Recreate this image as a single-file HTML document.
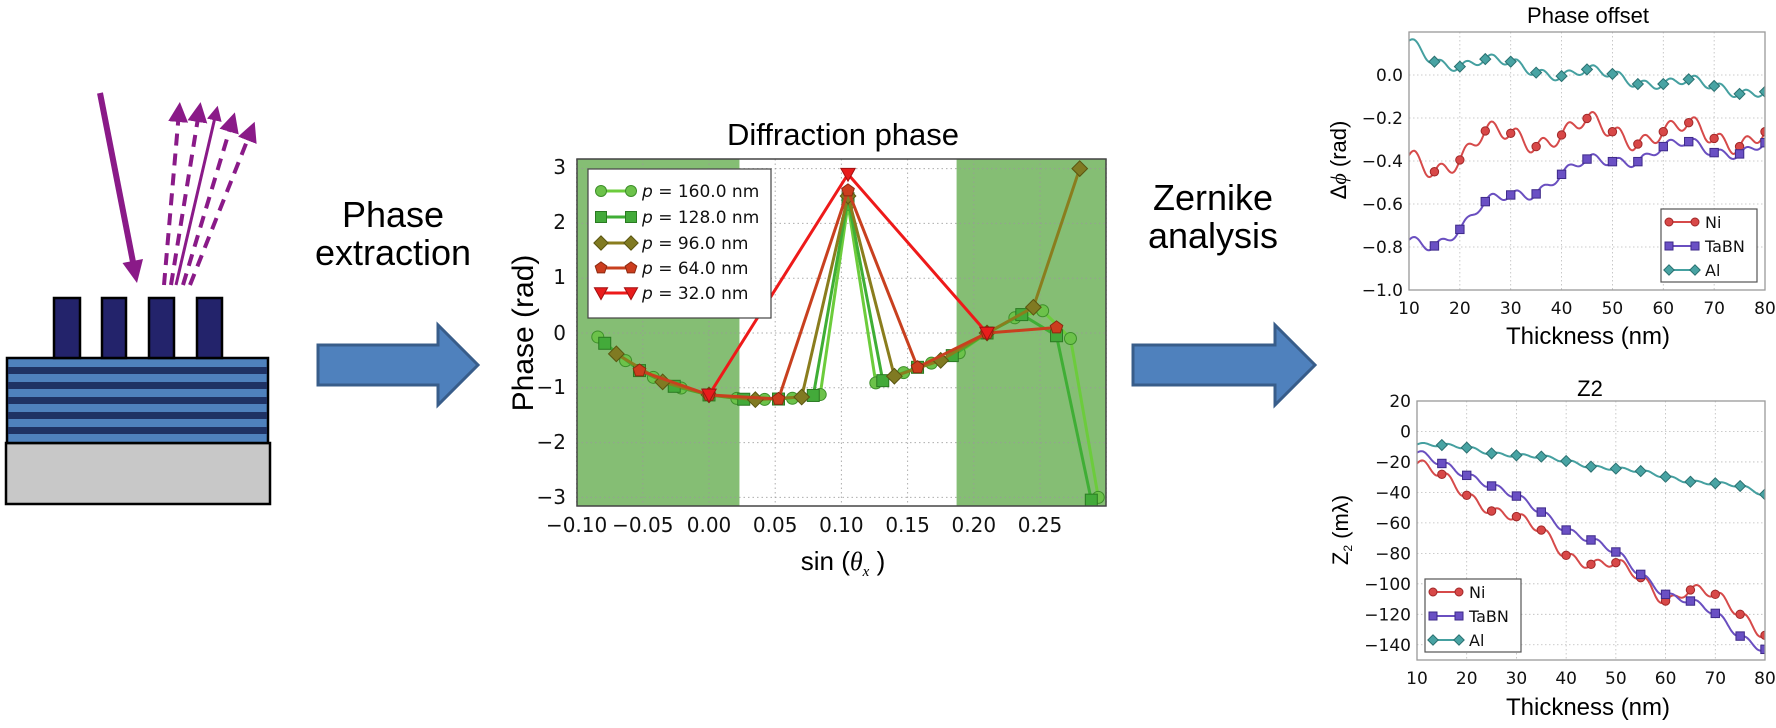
<!DOCTYPE html>
<html><head><meta charset="utf-8">
<style>
html,body{margin:0;padding:0;background:#fff;}
svg{display:block;}
.a{font-family:"Liberation Sans",Arial,sans-serif;fill:#000;}
.d{font-family:"DejaVu Sans","Liberation Sans",sans-serif;fill:#111;}
</style></head>
<body>
<svg id="s" width="1776" height="728" viewBox="0 0 1776 728" xmlns="http://www.w3.org/2000/svg">
<defs>
<marker id="ah" markerWidth="5" markerHeight="5" refX="2.5" refY="2.5" orient="auto" markerUnits="strokeWidth"><path d="M0,0 L5,2.5 L0,5 Z" fill="#8a1a88"/></marker>
<clipPath id="cc"><rect x="577" y="159" width="529" height="347"/></clipPath>
<clipPath id="c1"><rect x="1409" y="32" width="356" height="258"/></clipPath>
<clipPath id="c2"><rect x="1417" y="401" width="348" height="259"/></clipPath>
</defs>

<!-- left diagram -->
<rect x="6" y="443" width="264" height="61" fill="#c8c8c8" stroke="#000" stroke-width="2.5"/>
<rect x="7" y="358" width="261" height="85" fill="#4f81bd" stroke="#000" stroke-width="2.5"/>
<g fill="#1f3264">
<rect x="8" y="367" width="259" height="7"/><rect x="8" y="382" width="259" height="7"/><rect x="8" y="397" width="259" height="7"/><rect x="8" y="412" width="259" height="7"/><rect x="8" y="427" width="259" height="7"/>
</g>
<g fill="#23236b" stroke="#000" stroke-width="2.5">
<rect x="54" y="298" width="26" height="60"/><rect x="102" y="298" width="24" height="60"/><rect x="149" y="298" width="25" height="60"/><rect x="197" y="298" width="25" height="60"/>
</g>
<line x1="100" y1="93" x2="133" y2="262" stroke="#8a1a88" stroke-width="6"/>
<polygon points="137,283 143,259 122.5,263" fill="#8a1a88"/>
<g stroke="#8a1a88" stroke-width="4" fill="none">
<line x1="164" y1="285" x2="179" y2="112" stroke-dasharray="12 8" marker-end="url(#ah)"/>
<line x1="171" y1="285" x2="199" y2="112" stroke-dasharray="12 8" marker-end="url(#ah)"/>
<line x1="176" y1="285" x2="216" y2="113" marker-end="url(#ah)" stroke-width="3"/>
<line x1="183" y1="285" x2="232" y2="122" stroke-dasharray="12 8" marker-end="url(#ah)"/>
<line x1="190" y1="285" x2="251" y2="131" stroke-dasharray="12 8" marker-end="url(#ah)"/>
</g>

<!-- texts & arrows -->
<text class="a" x="393" y="227" font-size="36" text-anchor="middle">Phase</text>
<text class="a" x="393" y="265" font-size="36" text-anchor="middle">extraction</text>
<polygon points="318,345 438,345 438,325 478,365 438,405 438,385 318,385" fill="#4f81bd" stroke="#385d8a" stroke-width="3"/>
<text class="a" x="1213" y="210" font-size="36" text-anchor="middle">Zernike</text>
<text class="a" x="1213" y="248" font-size="36" text-anchor="middle">analysis</text>
<polygon points="1133,345 1275,345 1275,325 1315,365 1275,405 1275,385 1133,385" fill="#4f81bd" stroke="#385d8a" stroke-width="3"/>

<!-- center chart -->
<rect x="577" y="159" width="529" height="347" fill="#fff"/>
<g id="cg"></g>
<text class="a" x="843" y="145" font-size="31" text-anchor="middle">Diffraction phase</text>
<text class="a" font-size="30" text-anchor="middle" transform="translate(533,333) rotate(-90)">Phase (rad)</text>
<text class="a" x="843" y="570" font-size="26" text-anchor="middle">sin (<tspan font-family="Liberation Serif" font-style="italic">θ</tspan><tspan font-family="Liberation Serif" font-style="italic" font-size="15" dy="6">x</tspan><tspan dy="-6"> )</tspan></text>
<g class="d" font-size="20" text-anchor="end">
<text x="566" y="174">3</text><text x="566" y="229">2</text><text x="566" y="284">1</text><text x="566" y="340">0</text><text x="566" y="394">−1</text><text x="566" y="449">−2</text><text x="566" y="504">−3</text>
</g>
<g class="d" font-size="20" text-anchor="middle" id="cxt"></g>

<!-- legend center -->
<rect x="588" y="169" width="183" height="149" fill="#fff" stroke="#444" stroke-width="1.2"/>
<g id="cleg"></g>
<g class="d" font-size="17">
<text x="642" y="197"><tspan font-style="italic">p</tspan> = 160.0 nm</text>
<text x="642" y="223"><tspan font-style="italic">p</tspan> = 128.0 nm</text>
<text x="642" y="249"><tspan font-style="italic">p</tspan> = 96.0 nm</text>
<text x="642" y="274"><tspan font-style="italic">p</tspan> = 64.0 nm</text>
<text x="642" y="299"><tspan font-style="italic">p</tspan> = 32.0 nm</text>
</g>

<!-- right top -->
<text class="a" x="1588" y="23" font-size="22" text-anchor="middle">Phase offset</text>
<g id="r1"></g>
<text class="a" font-size="22" text-anchor="middle" transform="translate(1346,160) rotate(-90)">Δ<tspan font-family="Liberation Serif" font-style="italic">ϕ</tspan> (rad)</text>
<text class="a" x="1588" y="344" font-size="24" text-anchor="middle">Thickness (nm)</text>

<!-- right bottom -->
<text class="a" x="1590" y="396" font-size="22" text-anchor="middle">Z2</text>
<g id="r2"></g>
<text class="a" font-size="22" text-anchor="middle" transform="translate(1348,530) rotate(-90)">Z<tspan font-size="12" dy="4">2</tspan><tspan dy="-4"> (mλ)</tspan></text>
<text class="a" x="1588" y="715" font-size="24" text-anchor="middle">Thickness (nm)</text>
</svg>
<script>
const NS="http://www.w3.org/2000/svg";
function el(p,t,a,txt){const e=document.createElementNS(NS,t);for(const k in a)e.setAttribute(k,a[k]);if(txt!==undefined)e.textContent=txt;p.appendChild(e);return e;}
function marker(g,type,x,y,r,fill,stroke){
 if(type=='o')el(g,'circle',{cx:x,cy:y,r:r,fill:fill,stroke:stroke,'stroke-width':1});
 else if(type=='s')el(g,'rect',{x:x-r,y:y-r,width:2*r,height:2*r,fill:fill,stroke:stroke,'stroke-width':1});
 else if(type=='D'){const q=r*1.3;el(g,'polygon',{points:`${x},${y-q} ${x+q},${y} ${x},${y+q} ${x-q},${y}`,fill:fill,stroke:stroke,'stroke-width':1});}
 else if(type=='p'){let pts=[];for(let i=0;i<5;i++){const a=-Math.PI/2+i*2*Math.PI/5;pts.push((x+r*1.1*Math.cos(a)).toFixed(1)+','+(y+r*1.1*Math.sin(a)).toFixed(1));}el(g,'polygon',{points:pts.join(' '),fill:fill,stroke:stroke,'stroke-width':1});}
 else if(type=='v'){const q=r*1.2;el(g,'polygon',{points:`${x-q},${y-q*0.8} ${x+q},${y-q*0.8} ${x},${y+q}`,fill:fill,stroke:stroke,'stroke-width':1});}
}
// ---- center chart
const cg=document.getElementById('cg');
const X=v=>709+1324*v, Y=p=>333-54.8*p;
el(cg,'rect',{x:577,y:159,width:X(0.023)-577,height:347,fill:'#85be74'});
el(cg,'rect',{x:X(0.187),y:159,width:1106-X(0.187),height:347,fill:'#85be74'});
for(let i=-2;i<=6;i++){const x=X(i*0.05);el(cg,'line',{x1:x,y1:159,x2:x,y2:506,stroke:'#999','stroke-width':1,'stroke-dasharray':'1.5 3',opacity:0.8});}
for(let p=-3;p<=3;p++){el(cg,'line',{x1:577,y1:Y(p),x2:1106,y2:Y(p),stroke:'#999','stroke-width':1,'stroke-dasharray':'1.5 3',opacity:0.8});}
const cxt=document.getElementById('cxt');
['−0.10','−0.05','0.00','0.05','0.10','0.15','0.20','0.25'].forEach((t,i)=>el(cxt,'text',{x:X(-0.1+i*0.05),y:532},t));
const tab=[[-0.095,0.05],[-0.085,-0.05],[-0.07,-0.38],[-0.053,-0.68],[-0.03,-0.95],[0,-1.13],[0.03,-1.22],[0.06,-1.2],[0.085,-1.12],[0.128,-0.9],[0.157,-0.63],[0.175,-0.5],[0.19,-0.35],[0.21,0],[0.235,0.33],[0.255,0.42],[0.28,0.45]];
function f(v){for(let i=0;i<tab.length-1;i++){if(v<=tab[i+1][0]){const t=(v-tab[i][0])/(tab[i+1][0]-tab[i][0]);return tab[i][1]+t*(tab[i+1][1]-tab[i][1]);}}return 0.45;}
const series=[
 {step:0.021,peak:2.35,type:'o',line:'#6ccc3c',fill:'#6cc24a',edge:'#3d8f2a',over:{0.273:-0.1,0.294:-3.0}},
 {step:0.02625,peak:2.45,type:'s',line:'#3fae35',fill:'#43aa3a',edge:'#2a7a22',over:{0.2625:-0.05,0.289:-3.05}},
 {step:0.035,peak:2.5,type:'D',line:'#8a7d1e',fill:'#807a22',edge:'#5a5510',over:{0.28:3.0,0.245:0.47}},
 {step:0.0525,peak:2.6,type:'p',line:'#c8401f',fill:'#cc3d1e',edge:'#8a2a10',over:{0.2625:0.1}},
 {step:0.105,peak:2.9,type:'v',line:'#ee1a1a',fill:'#e81c1c',edge:'#a01010',over:{}}
];
const cdata=document.createElementNS(NS,'g');cdata.setAttribute('clip-path','url(#cc)');cg.appendChild(cdata);
series.forEach(s=>{
 let pts=[];
 for(let n=-10;n<=10;n++){const v=0.105+n*s.step;if(v<-0.09||v>0.298)continue;
  let p; if(n==0)p=s.peak; else {p=f(v);for(const k in s.over){if(Math.abs(v-parseFloat(k))<0.002)p=s.over[k];}}
  pts.push([X(v),Y(p)]);}
 el(cdata,'polyline',{points:pts.map(q=>q[0].toFixed(1)+','+q[1].toFixed(1)).join(' '),fill:'none',stroke:s.line,'stroke-width':3});
 pts.forEach(q=>marker(cdata,s.type,q[0],q[1],6,s.fill,s.edge));
});
el(cg,'rect',{x:577,y:159,width:529,height:347,fill:'none',stroke:'#444','stroke-width':1.5});
const cleg=document.getElementById('cleg');
series.forEach((s,i)=>{const y=[191,217,243,268,293][i];el(cleg,'line',{x1:601,y1:y,x2:631,y2:y,stroke:s.line,'stroke-width':3});marker(cleg,s.type,601,y,5.5,s.fill,s.edge);marker(cleg,s.type,631,y,5.5,s.fill,s.edge);});

// ---- right charts
function crv(vals,A){ // catmull-rom + wiggle, vals at x=10..80 step 5
 let out=[];
 for(let x=10;x<=80;x+=0.25){
  let i=Math.min(Math.floor((x-10)/5),13);let t=(x-10)/5-i;
  const p0=vals[Math.max(i-1,0)],p1=vals[i],p2=vals[i+1],p3=vals[Math.min(i+2,14)];
  let v=0.5*((2*p1)+(-p0+p2)*t+(2*p0-5*p1+4*p2-p3)*t*t+(-p0+3*p1-3*p2+p3)*t*t*t);
  v+=A*Math.sin(2*Math.PI*(x-10)/5);
  out.push([x,v]);}
 return out;}
const COL={Ni:['#d64a4a','#d84848','#a02828'],TaBN:['#6a4fc0','#6a50c4','#3e2a8a'],Al:['#45a0a0','#48a3a3','#2a7070']};
function chart(gid,clip,L,R,T,B,ymin,ymax,yt,ylab,data,A,leg){
 const g=document.getElementById(gid);
 const x=t=>L+(t-10)/70*(R-L), y=v=>B-(v-ymin)/(ymax-ymin)*(B-T);
 for(let t=10;t<=80;t+=10)el(g,'line',{x1:x(t),y1:T,x2:x(t),y2:B,stroke:'#bbb','stroke-width':0.8,'stroke-dasharray':'1.5 2.5'});
 yt.forEach(v=>el(g,'line',{x1:L,y1:y(v),x2:R,y2:y(v),stroke:'#bbb','stroke-width':0.8,'stroke-dasharray':'1.5 2.5'}));
 yt.forEach((v,i)=>el(g,'text',{x:L-6,y:y(v)+6,'font-size':17,'text-anchor':'end',class:'d'},ylab[i]));
 for(let t=10;t<=80;t+=10)el(g,'text',{x:x(t),y:B+24,'font-size':17,'text-anchor':'middle',class:'d'},String(t));
 const dg=document.createElementNS(NS,'g');dg.setAttribute('clip-path','url(#'+clip+')');g.appendChild(dg);
 for(const k of ['Ni','TaBN','Al']){const c=COL[k];const pts=crv(data[k],A[k]);
  el(dg,'polyline',{points:pts.map(q=>x(q[0]).toFixed(1)+','+y(q[1]).toFixed(1)).join(' '),fill:'none',stroke:c[0],'stroke-width':2});
  data[k].forEach((v,i)=>{if(i==0)return;marker(dg,{Ni:'o',TaBN:'s',Al:'D'}[k],x(10+5*i),y(v),4.2,c[1],c[2]);});}
 el(g,'rect',{x:L,y:T,width:R-L,height:B-T,fill:'none',stroke:'#999','stroke-width':1.3});
 el(g,'rect',{x:leg[0],y:leg[1],width:leg[2],height:leg[3],fill:'#fff',stroke:'#555','stroke-width':1.2});
 ['Ni','TaBN','Al'].forEach((k,i)=>{const c=COL[k];const yy=leg[1]+13+i*24*(leg[3]/73);
  el(g,'line',{x1:leg[0]+8,y1:yy,x2:leg[0]+34,y2:yy,stroke:c[0],'stroke-width':2});
  marker(g,{Ni:'o',TaBN:'s',Al:'D'}[k],leg[0]+8,yy,4,c[1],c[2]);marker(g,{Ni:'o',TaBN:'s',Al:'D'}[k],leg[0]+34,yy,4,c[1],c[2]);
  el(g,'text',{x:leg[0]+44,y:yy+6,'font-size':16,class:'d'},k);});
}
chart('r1','c1',1409,1765,32,290,-1.0,0.2,[0,-0.2,-0.4,-0.6,-0.8,-1.0],['0.0','−0.2','−0.4','−0.6','−0.8','−1.0'],
 {Ni:[-0.373,-0.45,-0.395,-0.26,-0.271,-0.333,-0.279,-0.202,-0.264,-0.321,-0.264,-0.222,-0.295,-0.333,-0.264],
  TaBN:[-0.767,-0.795,-0.718,-0.589,-0.558,-0.553,-0.462,-0.391,-0.403,-0.403,-0.333,-0.31,-0.361,-0.367,-0.315],
  Al:[0.16,0.062,0.039,0.074,0.062,0.011,-0.005,0.026,0.005,-0.042,-0.042,-0.02,-0.051,-0.088,-0.078]},
 {Ni:0.035,TaBN:0.02,Al:0.02},[1661,209,96,73]);
chart('r2','c2',1417,1765,401,660,-150,20,[20,0,-20,-40,-60,-80,-100,-120,-140],['20','0','−20','−40','−60','−80','−100','−120','−140'],
 {Ni:[-21,-28.1,-41.9,-52.2,-55.9,-64.7,-81.3,-87.2,-86.1,-96,-111.3,-104,-106.9,-120,-133.8],
  TaBN:[-13.9,-21,-28.8,-35.8,-42.4,-52.9,-64.7,-71.2,-79.1,-93.8,-106.9,-111.3,-119.4,-134.3,-143],
  Al:[-8.5,-8.9,-10.6,-14.4,-15.7,-16.5,-19.4,-23.1,-24.4,-26,-29.7,-33,-34,-35.8,-41.3]},
 {Ni:3,TaBN:2,Al:1},[1425,579,96,73]);
</script>
</body></html>
